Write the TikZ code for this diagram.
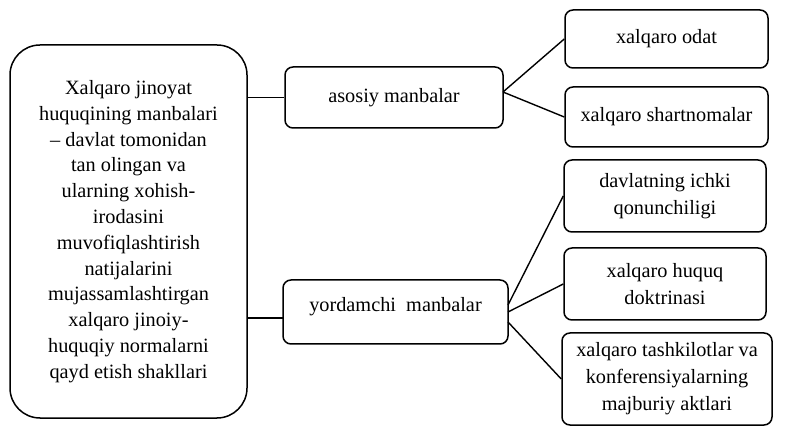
\documentclass[tikz,border=0pt]{standalone}
\usepackage{fontspec}
\setmainfont{Liberation Serif}
\begin{document}
\begin{tikzpicture}[x=1pt,y=-1pt,
  box/.style={draw, line width=1.5pt, rounded corners=8pt, align=center, inner sep=0pt,
    font=\fontsize{20.3}{27}\selectfont},
  bigbox/.style={draw, line width=1.5pt, rounded corners=30pt, align=center, inner sep=0pt,
    font=\fontsize{20.3}{25.8}\selectfont},
  conn/.style={line width=1.4pt}]
\useasboundingbox (0,0) rectangle (795,427);

\node[bigbox, minimum width=237pt, minimum height=373pt] (src) at (128.5,231.5)
  {Xalqaro jinoyat\\huquqining manbalari\\– davlat tomonidan\\tan olingan va\\ularning xohish-\\irodasini\\muvofiqlashtirish\\natijalarini\\mujassamlashtirgan\\xalqaro jinoiy-\\huquqiy normalarni\\qayd etish shakllari};

\node[box, minimum width=218pt, minimum height=61pt] (as) at (394,97.5) {asosiy manbalar};
\node[box, minimum width=225pt, minimum height=64pt, text height=14pt, text depth=14pt] (yo) at (395.5,312) {yordamchi\ \ manbalar};

\node[box, minimum width=203pt, minimum height=58pt] (od) at (666.5,39) {xalqaro odat};
\node[box, minimum width=203pt, minimum height=60pt] (sh) at (666.5,117) {xalqaro shartnomalar};
\node[box, minimum width=202pt, minimum height=72pt] (dv) at (665,196) {davlatning ichki\\qonunchiligi};
\node[box, minimum width=202pt, minimum height=72pt] (hq) at (665,284) {xalqaro huquq\\doktrinasi};
\node[box, minimum width=210pt, minimum height=92pt] (tk) at (667,379) {xalqaro tashkilotlar va\\konferensiyalarning\\majburiy aktlari};

\coordinate (ac) at (503,92);
\coordinate (yc) at (283,318);
\coordinate (y1) at (508,305);
\coordinate (y2) at (508,312);
\coordinate (y3) at (508,322);

\draw[conn] (src.east |- as.west) -- (as.west);
\draw[conn] (src.east |- yc) -- (yc);
\draw[conn] (ac) -- (od.west);
\draw[conn] (ac) -- (sh.west);
\draw[conn] (y1) -- (dv.west);
\draw[conn] (y2) -- (hq.west);
\draw[conn] (y3) -- (tk.west);
\end{tikzpicture}
\end{document}
